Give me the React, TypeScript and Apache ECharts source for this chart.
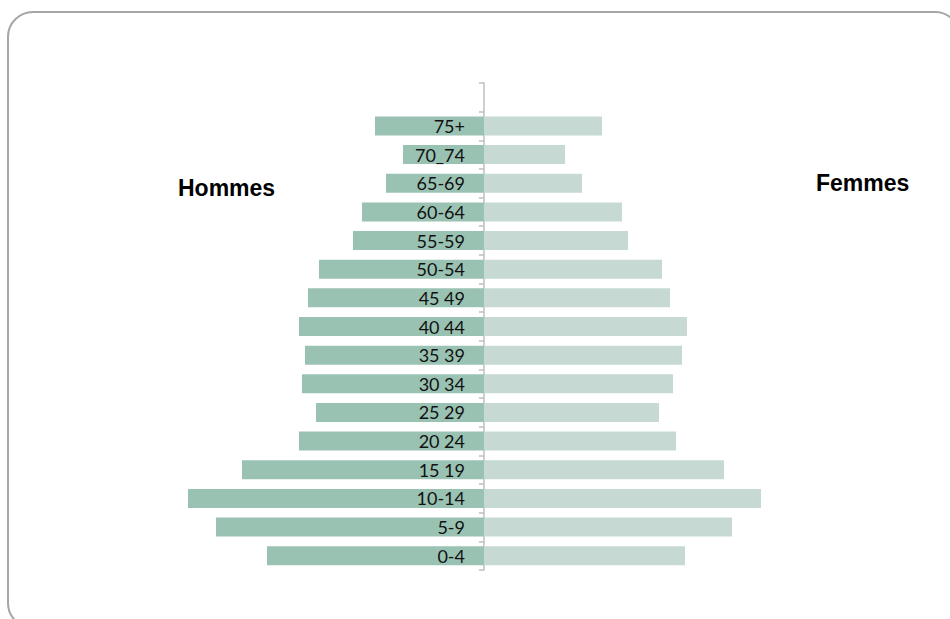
import React, { useEffect, useRef } from "react";
import * as echarts from "echarts";

const categories = ["0-4", "5-9", "10-14", "15 19", "20 24", "25 29", "30 34", "35 39", "40 44", "45 49", "50-54", "55-59", "60-64", "65-69", "70_74", "75+", ""];
const hommes = [217, 268, 296, 242, 185, 168, 182, 179, 185, 176, 165, 131, 122, 98, 81, 109, null];
const femmes = [201, 248, 277, 240, 192, 175, 189, 198, 203, 186, 178, 144, 138, 98, 81, 118, null];
const leftTitle = "Hommes";
const rightTitle = "Femmes";

export default function App() {
  const ref = useRef<HTMLDivElement>(null);
  useEffect(() => {
    const chart = echarts.init(ref.current!, null, { renderer: "svg" });
    chart.setOption({
      animation: false,
      backgroundColor: "#ffffff",
      graphic: [
        {
          type: "rect",
          shape: { x: 8, y: 12, width: 952, height: 616, r: 25 },
          style: { fill: "none", stroke: "#a6a6a6", lineWidth: 2 },
          silent: true,
        },
        {
          type: "text",
          x: 178,
          y: 188,
          style: { text: leftTitle, font: "bold 23px 'Liberation Sans', Arial, sans-serif", fill: "#000", textVerticalAlign: "middle" },
        },
        {
          type: "text",
          x: 816,
          y: 183,
          style: { text: rightTitle, font: "bold 23px 'Liberation Sans', Arial, sans-serif", fill: "#000", textVerticalAlign: "middle" },
        },
      ],
      grid: { left: 184, width: 600, top: 83, height: 487 },
      xAxis: {
        type: "value",
        min: -300,
        max: 300,
        show: false,
      },
      yAxis: {
        type: "category",
        data: categories,
        axisLine: { show: true, onZero: true, lineStyle: { color: "#bfbfbf", width: 1.5 } },
        axisTick: { show: true, length: 5, lineStyle: { color: "#bfbfbf", width: 1.5 } },
        axisLabel: { show: false },
        splitLine: { show: false },
      },
      series: [
        {
          type: "bar",
          name: leftTitle,
          data: hommes.map((v) => (v == null ? "-" : -v)),
          barWidth: 19,
          barGap: "-100%",
          itemStyle: { color: "#9ac2b3" },
          label: {
            show: true,
            position: "insideRight",
            distance: 19,
            formatter: (p: any) => p.name,
            fontFamily: "Lato, 'Open Sans', sans-serif",
            fontSize: 18,
            color: "#111",
          },
          z: 1,
        },
        {
          type: "bar",
          name: rightTitle,
          data: femmes.map((v) => (v == null ? "-" : v)),
          barWidth: 19,
          barGap: "-100%",
          itemStyle: { color: "#c6dad3" },
          z: 1,
        },
      ],
    });
    return () => chart.dispose();
  }, []);
  return <div ref={ref} style={{ position: "absolute", left: 0, top: 0, width: 950, height: 619 }} />;
}
